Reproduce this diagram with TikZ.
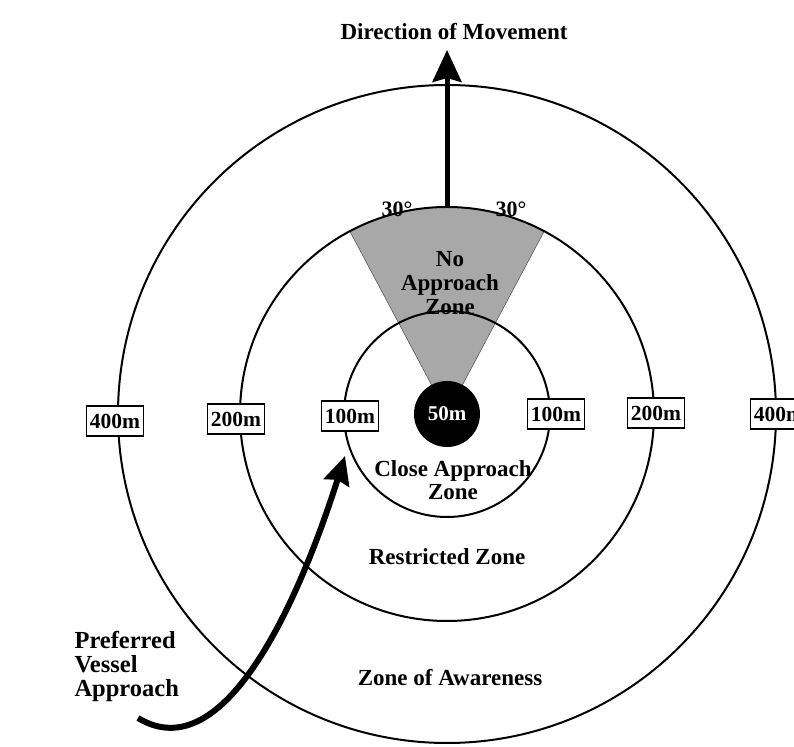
\documentclass[tikz,border=0pt]{standalone}
\usepackage{fontspec}
\setmainfont{Liberation Serif}
\usetikzlibrary{arrows.meta}

\begin{document}
\begin{tikzpicture}[x=1pt, y=1pt, >={Stealth[length=32pt,width=29pt,inset=4pt]},
    zone/.style={draw, line width=2pt},
    dist node/.style={draw, fill=white, line width=1.1pt, inner xsep=3.5pt, inner ysep=0pt, minimum height=30pt, font=\bfseries\fontsize{21.5}{22}\selectfont},
    zone label/.style={align=center, font=\bfseries\fontsize{23}{23}\selectfont},
    path arrow/.style={line width=6pt, -{Stealth[length=28pt,width=26pt,inset=3pt]}}]
                \useasboundingbox (0,0) rectangle (794,746);

                \coordinate (c) at (447,332);

                % no approach wedge
                \fill[black!34] (c) -- ++(62:207) arc (62:118:207) -- cycle;
                \draw[line width=0.5pt, black!70] (c) -- ++(62:207) (c) -- ++(118:207);

                \draw[zone] (c) circle[radius=329];
                \draw[zone] (c) circle[radius=207];
                \draw[zone] (c) circle[radius=103];
                \fill (c) circle[radius=33];

                \node[dist node, xshift=-332pt, yshift=-7pt] (l400) at (c) {400m};
                \node[dist node, xshift=-211pt, yshift=-5pt] (l200) at (c) {200m};
                \node[dist node, xshift=-97pt, yshift=-2pt] (l100) at (c) {100m};
                \node[dist node, xshift=109pt] (r100) at (c) {100m};
                \node[dist node, xshift=209pt, yshift=1pt] (r200) at (c) {200m};
                \node[dist node, xshift=332pt] (r400) at (c) {400m};
                \node[font=\bfseries\fontsize{21}{22}\selectfont, text=white] (core) at (c) {50m};

                \node[zone label] (dir) at (454,714) {Direction of Movement};
                \node[zone label, font=\bfseries\fontsize{22}{22}\selectfont] (deg1) at (397,537) {30°};
                \node[zone label, font=\bfseries\fontsize{22}{22}\selectfont] (deg2) at (511,537) {30°};
                \node[zone label, font=\bfseries\fontsize{23}{24}\selectfont] (nogo) at (450,463) {No\\Approach\\Zone};
                \node[zone label, font=\bfseries\fontsize{23}{22.5}\selectfont] (close) at (453,266) {Close Approach\\Zone};
                \node[zone label] (restr) at (447,189) {Restricted Zone};
                \node[zone label] (aware) at (450,68) {Zone of Awareness};
                \node[align=left, anchor=west, font=\bfseries\fontsize{24.5}{24}\selectfont] (pref) at (71,80) {Preferred\\Vessel\\Approach};

                \coordinate (top) at (447,539);
                \coordinate (tip) at (447,696);
                \coordinate (pstart) at (138,28);
                \coordinate (pend) at (345,290);

                \draw[->, line width=5pt] (top) -- (tip);
                \draw[path arrow] (pstart) .. controls (225,-25) and (300,148) .. (pend);
            \end{tikzpicture}
\end{document}
